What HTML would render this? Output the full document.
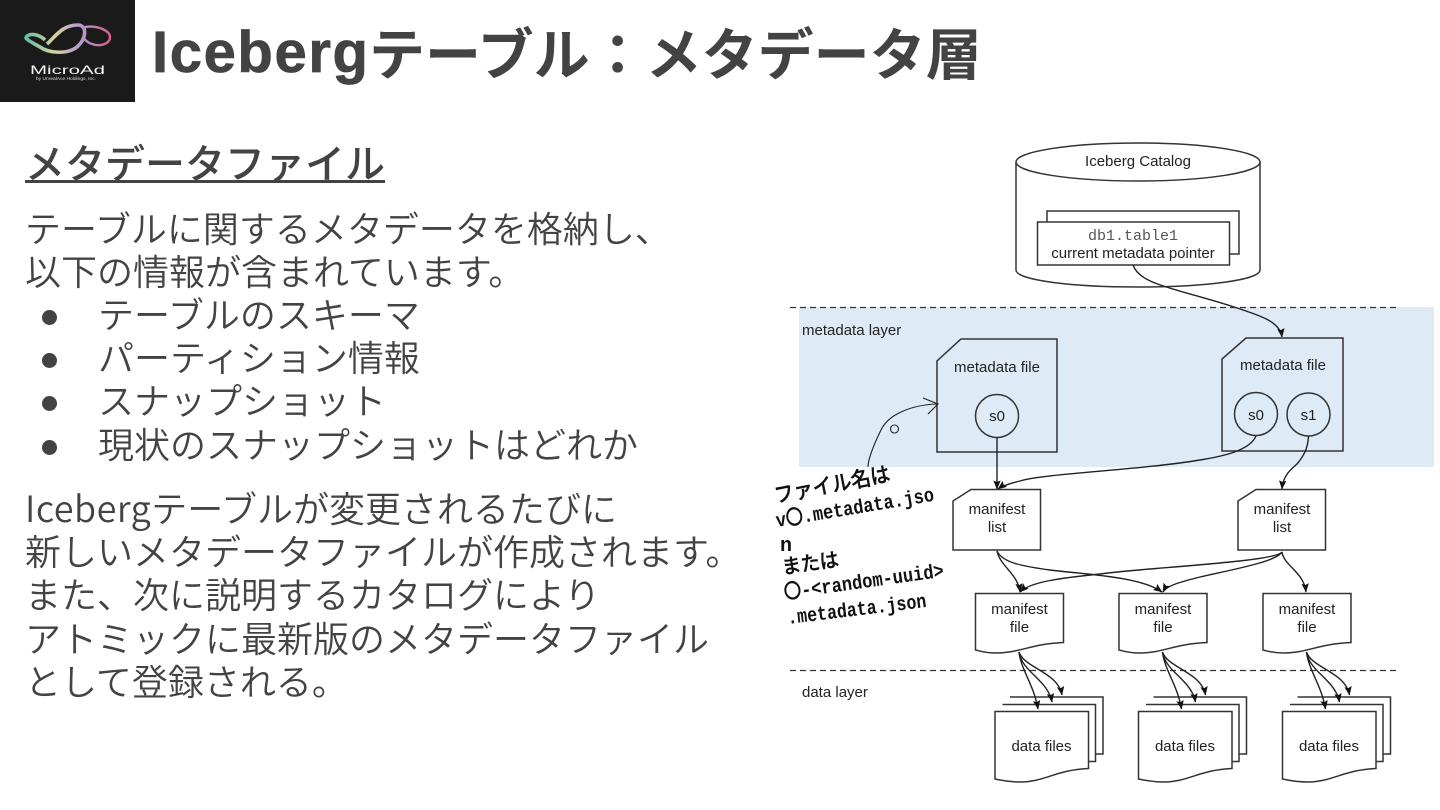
<!DOCTYPE html>
<html lang="ja"><head><meta charset="utf-8"><title>Icebergテーブル：メタデータ層</title>
<style>
html,body{margin:0;padding:0;background:#fff;width:1440px;height:810px;overflow:hidden}
body{position:relative;font-family:"Liberation Sans","Noto Sans CJK JP",sans-serif}
.j{position:absolute;white-space:nowrap;color:#434343;font-family:"Noto Sans CJK JP","Liberation Sans",sans-serif;font-size:36px;line-height:44px;font-weight:350}
.d{position:absolute;left:42px;width:15px;height:15px;border-radius:50%;background:#434343}
.l{letter-spacing:.5px}
svg{position:absolute;left:0;top:0}
svg text{font-family:"Liberation Sans",sans-serif;font-size:15px;fill:#222;text-anchor:middle}
.s{fill:#fff;stroke:#333;stroke-width:1.5}
.b{fill:#deeaf5;stroke:#333;stroke-width:1.5}
.c{fill:none;stroke:#222;stroke-width:1.4}
svg text.h{font-family:"Liberation Mono","WenQuanYi Zen Hei",monospace;font-size:20px;font-weight:700;fill:#111;text-anchor:start}
</style></head><body>
<div style="position:absolute;left:0;top:0;width:135px;height:102px;background:#1a1a1a"></div>
<svg width="135" height="102" viewBox="0 0 135 102">
<defs><linearGradient id="g" gradientUnits="userSpaceOnUse" x1="25" x2="110" y1="0" y2="0"><stop offset="0" stop-color="#5fc0a8"/><stop offset=".35" stop-color="#d8d0a0"/><stop offset=".65" stop-color="#b49ad0"/><stop offset="1" stop-color="#d8608a"/></linearGradient></defs>
<path d="M47 44C56 36 62 25 78 25C87 25 87 38 77 47C68 54 50 54 40 47C33 43 27 40 26 38C27 33 38 33 45 40" fill="none" stroke="url(#g)" stroke-width="3.600"/>
<path d="M85 27C98 25 110 31 110 37C110 44 100 47 92 44C88 43 85 40 83 37" fill="none" stroke="url(#g)" stroke-width="2.400"/>
<text x="67.500" y="74" textLength="75" lengthAdjust="spacingAndGlyphs" style="font-size:12px;fill:#f4f4f4">MicroAd</text>
<text x="66" y="80" textLength="60" lengthAdjust="spacingAndGlyphs" style="font-size:4.500px;fill:#dcdcdc">by UnrealAce Holdings, Inc.</text>
</svg>
<div class="j" style="left:152px;top:17px;font-family:'Liberation Sans',sans-serif;font-size:58px;line-height:72px;font-weight:700;letter-spacing:1.600px;-webkit-text-stroke:.7px #434343">Iceberg</div>
<div class="j" style="left:369px;top:16px;font-size:56px;line-height:72px;font-weight:700">テーブル：メタデータ層</div>
<div class="j" style="left:25px;top:135px;font-size:40px;line-height:52px;font-weight:500">メタデータファイル</div>
<div style="position:absolute;left:25px;top:180px;width:360px;height:3px;background:#434343"></div>
<div class="j" style="left:25px;top:205px">テーブルに関するメタデータを格納し、</div>
<div class="j" style="left:25px;top:248px">以下の情報が含まれています。</div>
<div class="d" style="top:310px"></div><div class="j" style="left:98px;top:291px">テーブルのスキーマ</div>
<div class="d" style="top:353px"></div><div class="j" style="left:98px;top:334px">パーティション情報</div>
<div class="d" style="top:396px"></div><div class="j" style="left:98px;top:377px">スナップショット</div>
<div class="d" style="top:440px"></div><div class="j" style="left:98px;top:421px">現状のスナップショットはどれか</div>
<div class="j" style="left:25px;top:485px"><span class="l">Iceberg</span>テーブルが変更されるたびに</div>
<div class="j" style="left:25px;top:528px">新しいメタデータファイルが作成されます。</div>
<div class="j" style="left:25px;top:571px">また、次に説明するカタログにより</div>
<div class="j" style="left:25px;top:615px">アトミックに最新版のメタデータファイル</div>
<div class="j" style="left:25px;top:658px">として登録される。</div>

<svg width="1440" height="810" viewBox="0 0 1440 810">
<defs><marker id="a" markerWidth="10" markerHeight="9" refX="8.500" refY="4" orient="auto" markerUnits="userSpaceOnUse"><path d="M0 .3L9 4L0 7.700L1.500 4Z" fill="#111"/></marker></defs>
<rect x="799" y="307" width="635" height="160" fill="#deeaf5"/>
<path d="M790 307.500H1400M790 670.500H1400" stroke="#333" stroke-width="1.300" stroke-dasharray="6 4" fill="none"/>
<path class="s" d="M1016 162V270C1016 280 1070 287 1138 287C1206 287 1260 280 1260 270V162"/>
<ellipse class="s" cx="1138" cy="162" rx="122" ry="19"/>
<text x="1138" y="166">Iceberg Catalog</text>
<rect class="s" x="1047" y="211" width="192" height="43"/>
<rect class="s" x="1037.500" y="222" width="192" height="43"/>
<text x="1133" y="240" style="font-family:'Liberation Mono',monospace;font-size:15px;fill:#555">db1.table1</text>
<text x="1133" y="258">current metadata pointer</text>
<path class="c" marker-end="url(#a)" d="M1133 265C1140 285 1175 288 1234 307C1262 316 1280 322 1282 337"/>
<text x="802" y="335" style="text-anchor:start">metadata layer</text>
<text x="802" y="697" style="text-anchor:start">data layer</text>

<path class="b" d="M961 339H1057V452H937V361Z"/>
<text x="997" y="372">metadata file</text>
<circle class="b" cx="997" cy="416" r="21.500"/>
<text x="997" y="421">s0</text>
<path class="b" d="M1246 338H1343V451H1222V359Z"/>
<text x="1283" y="370">metadata file</text>
<circle class="b" cx="1256" cy="414" r="21.500"/>
<text x="1256" y="420">s0</text>
<circle class="b" cx="1308.500" cy="414.500" r="21.500"/>
<text x="1308.500" y="420">s1</text>

<path class="c" marker-end="url(#a)" d="M997 437V489"/>
<path class="c" marker-end="url(#a)" d="M1256 436C1250 450 1225 456 1200 460C1140 470 1040 474 1020 481C1008 484 1002 486 998 489"/>
<path class="c" marker-end="url(#a)" d="M1308.500 436C1308 450 1302 458 1297 464C1290 470 1283 476 1282 489"/>

<path class="s" d="M971 489.500H1040.500V550H953V501Z"/>
<text x="997" y="514">manifest</text><text x="997" y="532">list</text>
<path class="s" d="M1256 489.500H1325.500V550H1238V501Z"/>
<text x="1282" y="514">manifest</text><text x="1282" y="532">list</text>

<path class="c" marker-end="url(#a)" d="M997 551C1000 566 1018 574 1020 592"/>
<path class="c" marker-end="url(#a)" d="M997 551C1002 562 1020 566 1050 570C1080 574 1140 576 1162 592"/>
<path class="c" marker-end="url(#a)" d="M1282 552C1276 562 1140 568 1100 574C1060 578 1030 582 1020 592"/>
<path class="c" marker-end="url(#a)" d="M1282 552C1276 562 1230 570 1200 577C1180 582 1166 586 1163 592"/>
<path class="c" marker-end="url(#a)" d="M1282 552C1284 566 1304 572 1306 592"/>

<g>
<path class="s" d="M975.500 593.500H1063.500V642.500C1030 644 1020 653 996 653C985 653 980 651 975.500 650Z"/>
<text x="1019.500" y="614">manifest</text><text x="1019.500" y="632">file</text>
</g>
<g transform="translate(143.500 0)"><path class="s" d="M975.500 593.500H1063.500V642.500C1030 644 1020 653 996 653C985 653 980 651 975.500 650Z"/>
<text x="1019.500" y="614">manifest</text><text x="1019.500" y="632">file</text></g>
<g transform="translate(287.500 0)"><path class="s" d="M975.500 593.500H1063.500V642.500C1030 644 1020 653 996 653C985 653 980 651 975.500 650Z"/>
<text x="1019.500" y="614">manifest</text><text x="1019.500" y="632">file</text></g>

<g>
<path class="s" d="M1010 697H1103V754H1095"/>
<path class="s" d="M1002.500 704.500H1095.500V761.500H1088"/>
<path class="s" d="M995 711.500H1088.500V768.500C1055 770 1045 782 1020 782C1008 782 1000 780 995 779Z"/>
<text x="1041.500" y="751">data files</text>
<path class="c" marker-end="url(#a)" d="M1019 652C1021 670 1034 685 1038 709"/>
<path class="c" marker-end="url(#a)" d="M1019 652C1022 672 1048 680 1052 702"/>
<path class="c" marker-end="url(#a)" d="M1019 652C1024 668 1058 672 1062 695"/>
</g>
<g transform="translate(143.500 0)">
<path class="s" d="M1010 697H1103V754H1095"/>
<path class="s" d="M1002.500 704.500H1095.500V761.500H1088"/>
<path class="s" d="M995 711.500H1088.500V768.500C1055 770 1045 782 1020 782C1008 782 1000 780 995 779Z"/>
<text x="1041.500" y="751">data files</text>
<path class="c" marker-end="url(#a)" d="M1019 652C1021 670 1034 685 1038 709"/>
<path class="c" marker-end="url(#a)" d="M1019 652C1022 672 1048 680 1052 702"/>
<path class="c" marker-end="url(#a)" d="M1019 652C1024 668 1058 672 1062 695"/>
</g>
<g transform="translate(287.500 0)">
<path class="s" d="M1010 697H1103V754H1095"/>
<path class="s" d="M1002.500 704.500H1095.500V761.500H1088"/>
<path class="s" d="M995 711.500H1088.500V768.500C1055 770 1045 782 1020 782C1008 782 1000 780 995 779Z"/>
<text x="1041.500" y="751">data files</text>
<path class="c" marker-end="url(#a)" d="M1019 652C1021 670 1034 685 1038 709"/>
<path class="c" marker-end="url(#a)" d="M1019 652C1022 672 1048 680 1052 702"/>
<path class="c" marker-end="url(#a)" d="M1019 652C1024 668 1058 672 1062 695"/>
</g>

<path d="M868 467C868 458 876 440 881 430C888 415 910 405 937 404M923 398L938 404L928 414" fill="none" stroke="#222" stroke-width="1.100"/>
<circle cx="894.500" cy="429" r="4" fill="none" stroke="#222" stroke-width="1.100"/>
<text class="h" transform="translate(776 503) rotate(-11)" textLength="117" lengthAdjust="spacingAndGlyphs" style="font-size:21px">ファイル名は</text>
<text class="h" transform="translate(777 527) rotate(-9.500)" textLength="160" lengthAdjust="spacingAndGlyphs">v〇.metadata.jso</text>
<text class="h" x="780" y="551">n</text>
<text class="h" transform="translate(783 574) rotate(-8)" textLength="57" lengthAdjust="spacingAndGlyphs">または</text>
<text class="h" transform="translate(785 599) rotate(-8)" textLength="161" lengthAdjust="spacingAndGlyphs">〇-&lt;random-uuid&gt;</text>
<text class="h" transform="translate(788 624) rotate(-7)" textLength="140" lengthAdjust="spacingAndGlyphs">.metadata.json</text>
</svg>
</body></html>
